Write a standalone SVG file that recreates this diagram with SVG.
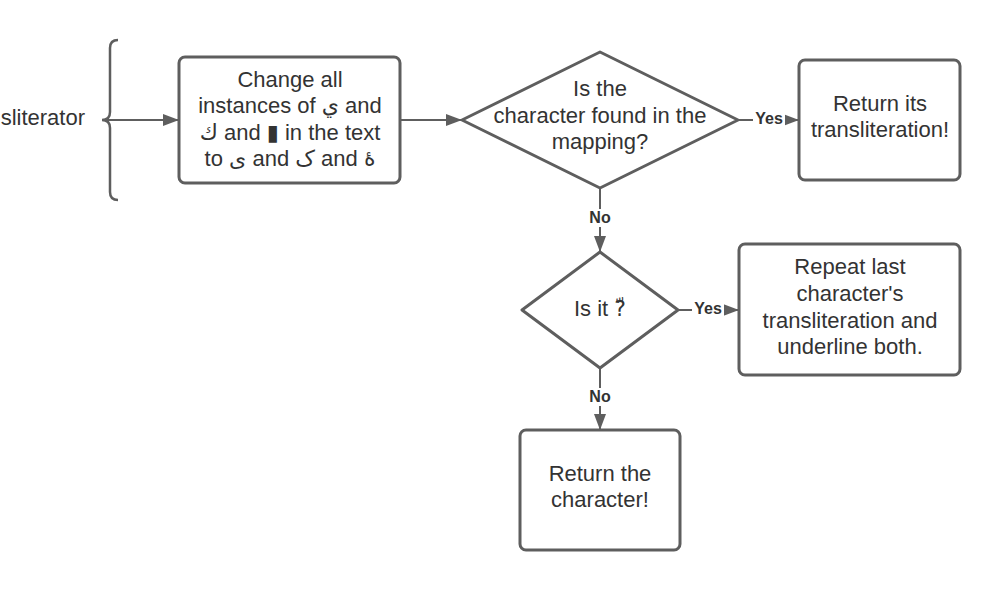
<svg xmlns="http://www.w3.org/2000/svg" width="1000" height="590" viewBox="0 0 1000 590">
<style>
  .shape { fill: #ffffff; stroke: #5e5e5e; stroke-width: 3; stroke-linejoin: round; }
  .line { fill: none; stroke: #5e5e5e; stroke-width: 2; }
  .t { font-family: "Liberation Sans", "DejaVu Sans", "Noto Sans", sans-serif; font-size: 22px; fill: #333333; text-anchor: middle; }
  .lbl { font-family: "Liberation Sans", "DejaVu Sans", sans-serif; font-size: 16px; font-weight: bold; fill: #333333; text-anchor: middle; }
</style>
<defs>
  <marker id="arr" markerUnits="userSpaceOnUse" markerWidth="16" markerHeight="12" refX="16" refY="6" orient="auto">
    <path d="M0,0 L16,6 L0,12 z" fill="#5e5e5e"/>
  </marker>
</defs>
<rect width="1000" height="590" fill="#ffffff"/>

<g id="input">
  <text class="t" x="85" y="125" style="text-anchor:end">sliterator</text>
  <path class="line" style="stroke-width:2.5" d="M118,40 Q110,40 110,48 L110,112 Q110,120 102,120 Q110,120 110,128 L110,192 Q110,200 118,200"/>
</g>

<g id="connectors">
  <path class="line" d="M104,120 L179,120" marker-end="url(#arr)"/>
  <path class="line" d="M400,120 L462,120" marker-end="url(#arr)"/>
  <path class="line" d="M738,120 L799,120" marker-end="url(#arr)"/>
  <path class="line" d="M600,188 L600,252" marker-end="url(#arr)"/>
  <path class="line" d="M678,310 L739,310" marker-end="url(#arr)"/>
  <path class="line" d="M600,368 L600,430" marker-end="url(#arr)"/>
  <rect x="753" y="110" width="32" height="18" fill="#ffffff"/>
  <text class="lbl" x="769" y="124">Yes</text>
  <rect x="586" y="209" width="28" height="18" fill="#ffffff"/>
  <text class="lbl" x="600" y="223">No</text>
  <rect x="692" y="300" width="32" height="18" fill="#ffffff"/>
  <text class="lbl" x="708" y="314">Yes</text>
  <rect x="586" y="388" width="28" height="18" fill="#ffffff"/>
  <text class="lbl" x="600" y="402">No</text>
</g>

<g id="normalize">
  <rect class="shape" x="179" y="57" width="221" height="126" rx="6"/>
  <text class="t" x="290" y="87">Change all</text>
  <text class="t" x="290" y="113">instances of ي and</text>
  <text class="t" x="290" y="140">ك and ▮ in the text</text>
  <text class="t" x="290" y="166">to ی and ک and هٔ</text>
</g>

<g id="decision-mapping">
  <path class="shape" d="M600,52 L738,120 L600,188 L462,120 z"/>
  <text class="t" x="600" y="96">Is the</text>
  <text class="t" x="600" y="123">character found in the</text>
  <text class="t" x="600" y="149">mapping?</text>
</g>

<g id="return-translit">
  <rect class="shape" x="799" y="60" width="161" height="120" rx="6"/>
  <text class="t" x="880" y="111">Return its</text>
  <text class="t" x="880" y="137">transliteration!</text>
</g>

<g id="decision-shadda">
  <path class="shape" d="M600,252 L678,310 L600,368 L522,310 z"/>
  <text class="t" x="600" y="316">Is it ?ّ</text>
</g>

<g id="repeat">
  <rect class="shape" x="739" y="244" width="221" height="131" rx="6"/>
  <text class="t" x="850" y="274">Repeat last</text>
  <text class="t" x="850" y="301">character's</text>
  <text class="t" x="850" y="328">transliteration and</text>
  <text class="t" x="850" y="354">underline both.</text>
</g>

<g id="return-char">
  <rect class="shape" x="520" y="430" width="160" height="120" rx="6"/>
  <text class="t" x="600" y="481">Return the</text>
  <text class="t" x="600" y="507">character!</text>
</g>
</svg>
